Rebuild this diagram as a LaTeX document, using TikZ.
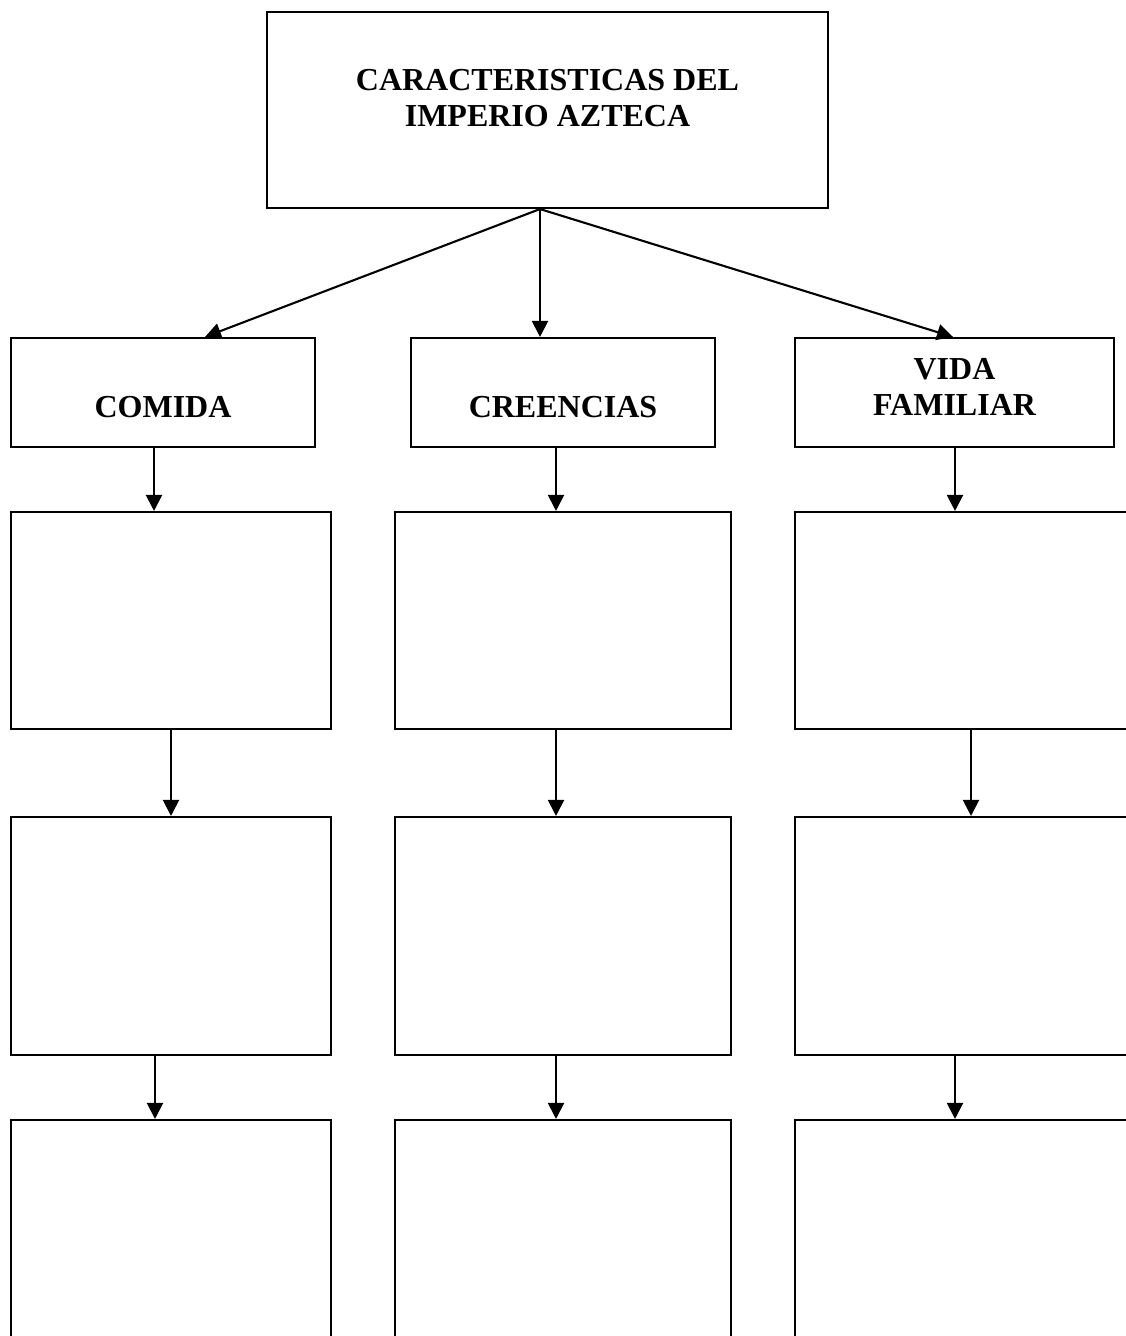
\documentclass[tikz,border=0pt]{standalone}
\usepackage{fontspec}
\setmainfont{Liberation Serif}
\usetikzlibrary{arrows.meta}

\begin{document}
\begin{tikzpicture}[x=1pt, y=1pt, line width=2.1pt,
        >={Triangle[length=16pt,width=16pt]},
        box/.style={rectangle, draw, inner sep=0pt, font=\bfseries\fontsize{32}{36}\selectfont}]
            \clip (0,0) rectangle (1126,-1336);

            \node[box, minimum width=561pt, minimum height=196pt, align=center, text height=114pt, text depth=82pt] (azteca) at (547.5,-110) {CARACTERISTICAS DEL\\IMPERIO AZTECA};

            \node[box, minimum width=304pt, minimum height=109pt, text height=79pt, text depth=30pt] (comida) at (163,-392.5) {COMIDA};
            \node[box, minimum width=304pt, minimum height=109pt, text height=79pt, text depth=30pt] (creencias) at (563,-392.5) {CREENCIAS};
            \node[box, minimum width=319pt, minimum height=109pt, align=center, text height=77pt, text depth=32pt] (vida) at (954.5,-392.5) {VIDA\\FAMILIAR};

            % empty boxes
            \node[box, minimum width=320pt, minimum height=217pt] (comida1) at (171,-620.5) {};
            \node[box, minimum width=320pt, minimum height=238pt] (comida2) at (171,-936) {};
            \node[box, minimum width=320pt, minimum height=230pt] (comida3) at (171,-1235) {};
            \node[box, minimum width=336pt, minimum height=217pt] (creencias1) at (563,-620.5) {};
            \node[box, minimum width=336pt, minimum height=238pt] (creencias2) at (563,-936) {};
            \node[box, minimum width=336pt, minimum height=230pt] (creencias3) at (563,-1235) {};
            \node[box, minimum width=345pt, minimum height=217pt] (vida1) at (967.5,-620.5) {};
            \node[box, minimum width=345pt, minimum height=238pt] (vida2) at (967.5,-936) {};
            \node[box, minimum width=345pt, minimum height=230pt] (vida3) at (967.5,-1235) {};

            \draw[->] ([xshift=-7.5pt]azteca.south) -- ([xshift=42pt]comida.north);
            \draw[->] ([xshift=-7.5pt]azteca.south) -- ([xshift=-23pt]creencias.north);
            \draw[->] ([xshift=-7.5pt]azteca.south) -- ([xshift=-1.5pt]vida.north);

            \draw[->] ([xshift=-9pt]comida.south) -- ([xshift=-9pt]comida.south |- comida1.north);
            \draw[->] (comida1.south) -- (comida2.north);
            \draw[->] ([xshift=-16pt]comida2.south) -- ([xshift=-16pt]comida2.south |- comida3.north);

            \draw[->] ([xshift=-7pt]creencias.south) -- ([xshift=-7pt]creencias1.north);
            \draw[->] ([xshift=-7pt]creencias1.south) -- ([xshift=-7pt]creencias2.north);
            \draw[->] ([xshift=-7pt]creencias2.south) -- ([xshift=-7pt]creencias3.north);

            \draw[->] ([xshift=0.5pt]vida.south) -- ([xshift=0.5pt]vida.south |- vida1.north);
            \draw[->] ([xshift=3.5pt]vida1.south) -- ([xshift=3.5pt]vida2.north);
            \draw[->] ([xshift=-12.5pt]vida2.south) -- ([xshift=-12.5pt]vida2.south |- vida3.north);
\end{tikzpicture}
\end{document}
